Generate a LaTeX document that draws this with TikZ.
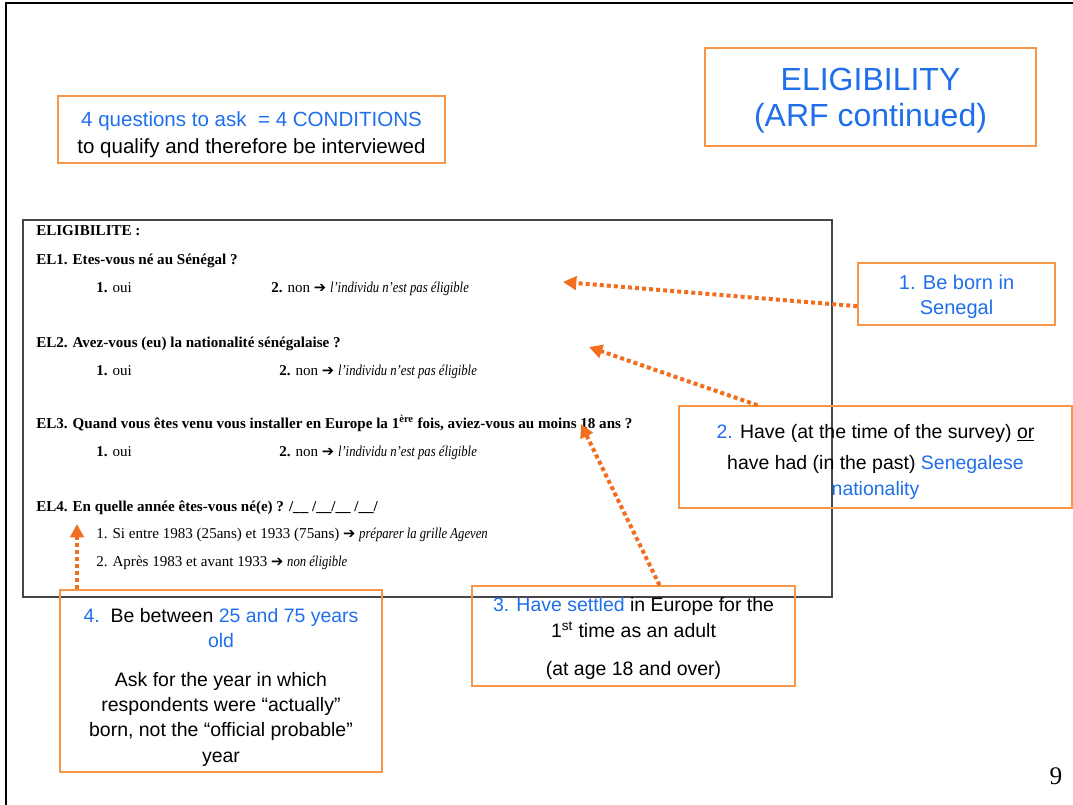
\documentclass[tikz,border=0pt]{standalone}
\usepackage{fontspec}
\setmainfont{Liberation Sans}
\newfontfamily\qserif{Liberation Serif}
\newfontfamily\qnarrow[FakeStretch=0.84]{Liberation Serif}
\newfontfamily\symfont{DejaVu Sans}
\usetikzlibrary{arrows.meta,calc}
\definecolor{hblue}{RGB}{31,111,235}
\definecolor{boxorange}{RGB}{247,150,70}
\definecolor{arrorange}{RGB}{240,110,30}
\definecolor{qgray}{RGB}{70,70,70}
\newcommand{\myfs}[2]{\fontsize{#1}{#2}\selectfont}
\newcommand{\qarr}{{\symfont\myfs{11pt}{12pt}➔}}
\newcommand{\nonel}{\qarr\ {\qnarrow\itshape l’individu n’est pas éligible}}
\begin{document}
\begin{tikzpicture}[x=0.75pt,y=-0.75pt,
  obox/.style={draw=boxorange,line width=1.1pt,inner sep=0pt},
  btext/.style={inner sep=0pt,align=center},
  qline/.style={anchor=base west,inner sep=0pt,font=\qserif\myfs{11.3pt}{13pt}},
  cond/.style={draw=arrorange,line width=3pt,dash pattern=on 3pt off 2.3pt,
    -{Triangle[length=10pt,width=10pt]}}]
\useasboundingbox (0,0) rectangle (1073,805);
% slide frame
\draw[line width=1.6pt] (6,805) -- (6,3) -- (1073,3);

% questionnaire
\node[draw=qgray,line width=0.9pt,minimum width=606.75pt,minimum height=282.75pt,inner sep=0pt] (qbox) at (427.5,408.5) {};
\node[qline] (q0) at (36,236) {\textbf{ELIGIBILITE :}};
\node[qline] (q1) at (36,265) {\textbf{EL1. Etes-vous né au Sénégal ?}};
\node[qline] (q1a) at (96,292) {\textbf{1.} oui};
\node[qline] (q1b) at (271,292) {\textbf{2.} non \nonel};
\node[qline] (q2) at (36,347) {\textbf{EL2. Avez-vous (eu) la nationalité sénégalaise ?}};
\node[qline] (q2a) at (96,375) {\textbf{1.} oui};
\node[qline] (q2b) at (279,375) {\textbf{2.} non \nonel};
\node[qline] (q3) at (36,428) {\textbf{EL3. Quand vous êtes venu vous installer en Europe la 1\textsuperscript{ère} fois, aviez-vous au moins 18 ans ?}};
\node[qline] (q3a) at (96,456) {\textbf{1.} oui};
\node[qline] (q3b) at (279,456) {\textbf{2.} non \nonel};
\node[qline] (q4) at (36,511) {\textbf{EL4. En quelle année êtes-vous né(e) ? /\_\_ /\_\_/\_\_ /\_\_/}};
\node[qline] (q4a) at (96,538) {1. Si entre 1983 (25ans) et 1933 (75ans) \qarr\ {\qnarrow\itshape préparer la grille Ageven}};
\node[qline] (q4b) at (96,566) {2. Après 1983 et avant 1933 \qarr\ {\qnarrow\itshape non éligible}};

% page number
\node[font=\qserif\myfs{19pt}{20pt},inner sep=0pt] (pg) at (1056,776) {9};

% boxes
\node[obox,minimum width=290.25pt,minimum height=50.25pt] (bq) at (251.5,129.5) {};
\node[btext,font=\myfs{15.4pt}{20.25pt}] (bqt) at ($(bq)+(0,5)$)
  {\textcolor{hblue}{4 questions to ask\ \ = 4 CONDITIONS}\\to qualify and therefore be interviewed};
\node[obox,minimum width=248.25pt,minimum height=73.5pt] (title) at (870.5,97) {};
\node[btext,text=hblue,font=\myfs{24pt}{27pt}] (titlet) at ($(title)+(0,4)$)
  {ELIGIBILITY\\(ARF continued)};
\node[obox,minimum width=147.75pt,minimum height=46.5pt] (b1) at (956.5,294) {};
\node[btext,text=hblue,font=\myfs{15pt}{18.75pt}] (b1t) at ($(b1)+(0,3)$)
  {1. Be born in\\Senegal};
\node[obox,minimum width=294.75pt,minimum height=76.5pt] (b2) at (875.5,457) {};
\node[btext,font=\myfs{14.6pt}{19.5pt}] (b2t) at ($(b2)+(0,5)$)
  {\textcolor{hblue}{2.} Have (at the time of the survey) \underline{or}\\[3.75pt]have had (in the past) \textcolor{hblue}{Senegalese}\\\textcolor{hblue}{nationality}};
\node[obox,minimum width=242.25pt,minimum height=75pt] (b3) at (633.5,636) {};
\node[btext,font=\myfs{14.6pt}{19pt}] (b3t) at ($(b3)+(0,2.5)$)
  {\textcolor{hblue}{3. Have settled} in Europe for the\\1\textsuperscript{st} time as an adult\\[9.5pt](at age 18 and over)};
\node[obox,minimum width=241.5pt,minimum height=136.5pt] (b4) at (221,681) {};
\node[btext,font=\myfs{14.6pt}{19pt}] (b4t) at ($(b4)+(0,6)$)
  {\textcolor{hblue}{4.}\ \ Be between \textcolor{hblue}{25 and 75 years}\\\textcolor{hblue}{old}\\[10pt]Ask for the year in which\\respondents were “actually”\\born, not the “official probable”\\year};

% arrows
\coordinate (t1) at (563,282);
\coordinate (t2) at (589,347);
\coordinate (t3) at (581,424);
\coordinate (t4) at (77,524);
\draw[cond] (b1.187) -- (t1);
\draw[cond] ($(b2.north)+(-118,0)$) -- (t2);
\draw[cond] ($(b3.north)+(26,0)$) -- (t3);
\draw[cond] ($(b4.north)+(-144,0)$) -- (t4);
\end{tikzpicture}
\end{document}
